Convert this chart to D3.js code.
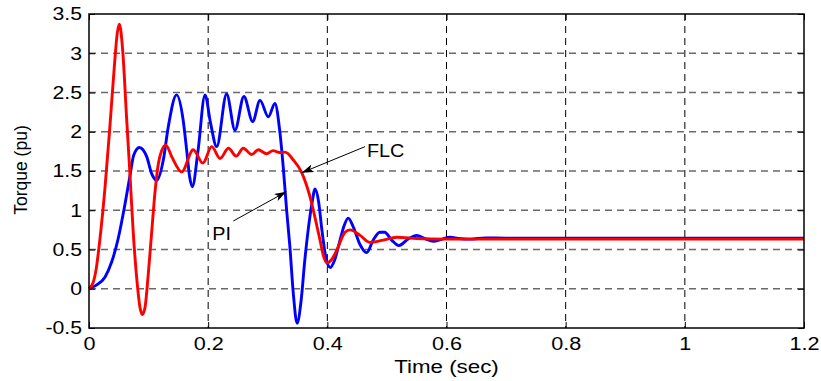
<!DOCTYPE html>
<html>
<head>
<meta charset="utf-8">
<script src="https://cdn.jsdelivr.net/npm/d3@7"></script>
<style>
  body { margin: 0; background: #fff; }
  svg { display: block; font-family: "Liberation Sans", Arial, Helvetica, sans-serif; }
</style>
</head>
<body>
<div id="torque-chart"></div>
<script>
// PI controller torque response (blue)
const piTime = [0, 0.011, 0.027, 0.038, 0.049, 0.060, 0.069, 0.075, 0.0845, 0.097, 0.105, 0.1136,
  0.1247, 0.133, 0.147, 0.158, 0.164, 0.169, 0.1735, 0.183, 0.1947, 0.204, 0.2143, 0.231, 0.245,
  0.260, 0.2747, 0.287, 0.301, 0.312, 0.320, 0.326, 0.3317, 0.337, 0.343, 0.3492, 0.356, 0.362,
  0.368, 0.374, 0.3795, 0.3855, 0.391, 0.3975, 0.405, 0.412, 0.421, 0.428, 0.435, 0.444, 0.455,
  0.466, 0.477, 0.488, 0.496, 0.508, 0.52, 0.535, 0.55, 0.564, 0.578, 0.592, 0.606, 0.62, 0.64,
  0.665, 0.7, 1.2];
const piTorque = [0, 0.04, 0.15, 0.34, 0.64, 1.06, 1.45, 1.70, 1.80, 1.68, 1.47, 1.38,
  1.64, 2.06, 2.47, 2.15, 1.76, 1.42, 1.30, 1.76, 2.47, 2.11, 1.81, 2.48, 2.02,
  2.45, 2.13, 2.40, 2.19, 2.36, 2.02, 1.55, 1.0, 0.55, -0.07, -0.44, -0.15, 0.35,
  0.76, 1.08, 1.27, 1.10, 0.74, 0.40, 0.27, 0.36, 0.61, 0.80, 0.90, 0.78, 0.56,
  0.46, 0.62, 0.72, 0.72, 0.62, 0.55, 0.63, 0.68, 0.64, 0.605, 0.63, 0.656, 0.64, 0.632,
  0.648, 0.645, 0.645];

// Fuzzy logic controller torque response (red)
const flcTime = [0, 0.007, 0.012, 0.018, 0.027, 0.035, 0.0425, 0.0475, 0.051, 0.0565, 0.063, 0.069,
  0.0744, 0.081, 0.0856, 0.0895, 0.094, 0.0995, 0.105, 0.111, 0.1163, 0.122, 0.129, 0.139, 0.1556,
  0.175, 0.191, 0.206, 0.220, 0.234, 0.247, 0.259, 0.273, 0.284, 0.298, 0.309, 0.319, 0.329,
  0.343, 0.357, 0.371, 0.381, 0.388, 0.3935, 0.399, 0.407, 0.4157, 0.4297, 0.438, 0.455, 0.4717,
  0.494, 0.5165, 0.55, 0.6, 1.2];
const flcTorque = [0, 0.08, 0.25, 0.61, 1.30, 2.06, 2.83, 3.26, 3.37, 3.04, 2.19, 1.42,
  0.70, 0.06, -0.24, -0.33, -0.24, 0.19, 0.70, 1.25, 1.59, 1.76, 1.83, 1.68, 1.49,
  1.77, 1.60, 1.81, 1.66, 1.79, 1.69, 1.79, 1.71, 1.77, 1.72, 1.76, 1.735, 1.74,
  1.64, 1.48, 1.17, 0.85, 0.61, 0.42, 0.33, 0.37, 0.49, 0.72, 0.75, 0.68, 0.59,
  0.62, 0.656, 0.64, 0.632, 0.632];

const xTicks = [0, 0.2, 0.4, 0.6, 0.8, 1, 1.2];
const yTicks = [-0.5, 0, 0.5, 1, 1.5, 2, 2.5, 3, 3.5];

// text label, arrow tail, arrow tip (data units)
const notes = [
  { label: "FLC", at: [0.4666, 1.675], from: [0.4632, 1.81], to: [0.357, 1.478] },
  { label: "PI", at: [0.207, 0.621], from: [0.2422, 0.863], to: [0.3311, 1.236] }
];

const margin = { top: 14, right: 17, bottom: 53, left: 89 };
const width = 821 - margin.left - margin.right;
const height = 381 - margin.top - margin.bottom;

const svg = d3.select("div#torque-chart")
  .append("svg")
  .attr("width", 821)
  .attr("height", 381)
  .append("g")
  .attr("transform", "translate(" + margin.left + "," + margin.top + ")");

const x = d3.scaleLinear().domain([0, 1.2]).range([0, width]);
const y = d3.scaleLinear().domain([-0.5, 3.5]).range([height, 0]);

// stretch text horizontally, the original lettering is wider than Arial
function widen(sel, k) {
  sel.each(function () {
    const len = this.getComputedTextLength();
    d3.select(this).attr("textLength", len * k).attr("lengthAdjust", "spacingAndGlyphs");
  });
}

// grid
svg.append("g")
  .selectAll("line")
  .data(yTicks.slice(1, -1))
  .enter()
  .append("line")
  .attr("x1", 0).attr("x2", width)
  .attr("y1", d => y(d)).attr("y2", d => y(d))
  .attr("stroke", "#6a6a6a")
  .attr("stroke-width", 1.5)
  .attr("stroke-dasharray", "7,5");

svg.append("g")
  .selectAll("line")
  .data(xTicks.slice(1, -1))
  .enter()
  .append("line")
  .attr("x1", d => x(d)).attr("x2", d => x(d))
  .attr("y1", 0).attr("y2", height)
  .attr("stroke", "#000")
  .attr("stroke-width", 1)
  .attr("stroke-dasharray", "7,5");

// curves
const line = d3.line()
  .x(d => x(d[0]))
  .y(d => y(d[1]))
  .curve(d3.curveMonotoneX);

svg.append("path")
  .datum(piTime.map((t, i) => [t, piTorque[i]]))
  .attr("fill", "none")
  .attr("stroke", "#0000ff")
  .attr("stroke-width", 2.9)
  .attr("stroke-linejoin", "round")
  .attr("d", line);

svg.append("path")
  .datum(flcTime.map((t, i) => [t, flcTorque[i]]))
  .attr("fill", "none")
  .attr("stroke", "#ff0000")
  .attr("stroke-width", 2.9)
  .attr("stroke-linejoin", "round")
  .attr("d", line);

// axes, ticks pointing inward like matlab
const fmt = d => String(d);

const gx = svg.append("g")
  .attr("transform", "translate(0," + height + ")")
  .call(d3.axisBottom(x).tickValues(xTicks).tickFormat(fmt).tickSizeInner(-6).tickSizeOuter(0).tickPadding(9));
const gy = svg.append("g")
  .call(d3.axisLeft(y).tickValues(yTicks).tickFormat(fmt).tickSizeInner(-6).tickSizeOuter(0).tickPadding(7));
svg.append("g")
  .call(d3.axisTop(x).tickValues(xTicks).tickFormat("").tickSizeInner(-6).tickSizeOuter(0));
svg.append("g")
  .attr("transform", "translate(" + width + ",0)")
  .call(d3.axisRight(y).tickValues(yTicks).tickFormat("").tickSizeInner(-6).tickSizeOuter(0));

svg.selectAll(".domain").remove();
svg.selectAll(".tick line").attr("stroke", "#000").attr("stroke-width", 1);
svg.selectAll(".tick text")
  .attr("font-family", "'Liberation Sans', Arial, Helvetica, sans-serif")
  .attr("font-size", 18)
  .attr("fill", "#000");
widen(gx.selectAll(".tick text"), 1.2);
widen(gy.selectAll(".tick text"), 1.18);

svg.append("rect")
  .attr("width", width)
  .attr("height", height)
  .attr("fill", "none")
  .attr("stroke", "#000")
  .attr("stroke-width", 1.5);

// axis titles
svg.append("text")
  .attr("x", width / 2)
  .attr("y", height + 45)
  .attr("text-anchor", "middle")
  .attr("font-size", 18)
  .text("Time (sec)")
  .call(widen, 1.24);

svg.append("text")
  .attr("transform", "translate(" + (27 - margin.left) + "," + (height / 2 - 1) + ")rotate(-90)")
  .attr("text-anchor", "middle")
  .attr("font-size", 17.5)
  .text("Torque (pu)");

// arrow annotations
svg.append("defs")
  .append("marker")
  .attr("id", "arrowhead")
  .attr("markerUnits", "userSpaceOnUse")
  .attr("markerWidth", 14)
  .attr("markerHeight", 10)
  .attr("refX", 12)
  .attr("refY", 4)
  .attr("orient", "auto")
  .append("path")
  .attr("d", "M0,0L12,4L0,8L3,4Z")
  .attr("fill", "#000");

const note = svg.selectAll(".note")
  .data(notes)
  .enter()
  .append("g")
  .attr("class", "note");

note.append("line")
  .attr("x1", d => x(d.from[0])).attr("y1", d => y(d.from[1]))
  .attr("x2", d => x(d.to[0])).attr("y2", d => y(d.to[1]))
  .attr("stroke", "#000")
  .attr("stroke-width", 1)
  .attr("marker-end", "url(#arrowhead)");

note.append("text")
  .attr("x", d => x(d.at[0]))
  .attr("y", d => y(d.at[1]))
  .attr("font-size", 18)
  .text(d => d.label)
  .call(widen, 1.1);
</script>
</body>
</html>
